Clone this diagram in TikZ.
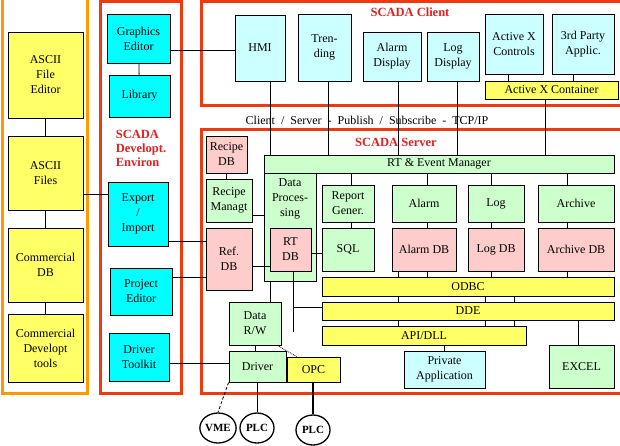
\documentclass[tikz,border=0pt]{standalone}
\usepackage{fontspec}
\setmainfont{Liberation Serif}
\usetikzlibrary{shapes.geometric}
\definecolor{aqua}{HTML}{00FFFF}
\definecolor{paleaqua}{HTML}{CCFFFF}
\definecolor{paleyellow}{HTML}{FFFF66}
\definecolor{palegreen}{HTML}{CCFFCC}
\definecolor{palepink}{HTML}{FFCCCC}
\definecolor{frameorange}{HTML}{FF9900}
\definecolor{framered}{HTML}{EE3A10}
\definecolor{titlered}{HTML}{E02020}
\tikzset{
	box/.style={rectangle, draw=black, line width=0.9pt, inner sep=1pt, align=center, font=\fontsize{12}{15}\selectfont},
	tool box/.style={box, fill=paleyellow},
	dev box/.style={box, fill=aqua},
	client box/.style={box, fill=paleaqua},
	server box/.style={box, fill=palegreen},
	db box/.style={box, fill=palepink},
	bus box/.style={box, fill=paleyellow},
	field/.style={ellipse, draw=black, line width=1.3pt, inner sep=0pt, minimum width=34pt, minimum height=30pt, font=\bfseries\fontsize{11}{12}\selectfont},
	frame/.style={line width=3pt},
	title/.style={text=titlered, font=\bfseries\fontsize{12.5}{14}\selectfont, align=left}
}
\begin{document}
\begin{tikzpicture}[x=1pt, y=-1pt, line width=0.8pt]
	\useasboundingbox (0,0) rectangle (620,445);
	% frames
	\draw[frame, draw=frameorange] (2,-2) rectangle (87,393);
	\draw[frame, draw=framered] (100,1) rectangle (181,393);
	\draw[frame, draw=framered] (201,1) rectangle (622,105);
	\draw[frame, draw=framered] (201,129) rectangle (622,393);

	\node[title](clientTitle) at (410,12){SCADA Client};
	\node[title](serverTitle) at (396,142){SCADA Server};
	\node[title](devTitle) at (141,148){SCADA\\Developt.\\Environ};
	\node[font=\fontsize{12}{14}\selectfont](protocol) at (367,120){Client \ / \ Server \ - \ Publish \ / \ Subscribe \ - \ TCP/IP};

	% commercial tools
	\node[tool box, minimum width=75pt, minimum height=86pt](fileEditor) at (45.5,75){ASCII\\File\\Editor};
	\node[tool box, minimum width=75pt, minimum height=74pt](asciiFiles) at (45.5,173){ASCII\\Files};
	\node[tool box, minimum width=75pt, minimum height=74pt](commDB) at (45.5,265){Commercial\\DB};
	\node[tool box, minimum width=75pt, minimum height=68pt](commTools) at (45.5,348){Commercial\\Developt\\tools};

	% development environment
	\node[dev box, minimum width=63pt, minimum height=49pt](graphEditor) at (138.5,38.5){Graphics\\Editor};
	\node[dev box, minimum width=61pt, minimum height=42pt](library) at (139.5,96){Library};
	\node[dev box, minimum width=60pt, minimum height=64pt](exportImport) at (138,214){Export\\/\\Import};
	\node[dev box, minimum width=62pt, minimum height=47pt](projEditor) at (141,291.5){Project\\Editor};
	\node[dev box, minimum width=60pt, minimum height=48pt](drvToolkit) at (139,357){Driver\\Toolkit};

	% client
	\node[client box, minimum width=50pt, minimum height=66pt](hmi) at (260,48){HMI};
	\node[client box, minimum width=53pt, minimum height=67pt](trending) at (324.5,47.5){Tren-\\ding};
	\node[client box, minimum width=58pt, minimum height=49pt](alarmDisp) at (392,56.5){Alarm\\Display};
	\node[client box, minimum width=52pt, minimum height=49pt](logDisp) at (453,56.5){Log\\Display};
	\node[client box, minimum width=58pt, minimum height=60pt](axControls) at (514,44){Active X\\Controls};
	\node[client box, minimum width=62pt, minimum height=60pt](thirdParty) at (583,44){3rd Party\\Applic.};
	\node[bus box, minimum width=133pt, minimum height=18pt](axContainer) at (551.5,90){Active X Container};

	% server
	\node[db box, minimum width=41pt, minimum height=37pt](recipeDB) at (226.5,154.5){Recipe\\DB};
	\node[server box, minimum width=46pt, minimum height=43pt](recipeMgt) at (229,200.5){Recipe\\Managt};
	\node[server box, minimum width=350pt, minimum height=18pt](rtManager) at (439,164){RT \& Event Manager};
	\node[server box, minimum width=52pt, minimum height=108pt, label={[anchor=north, align=center, font=\fontsize{12}{15}\selectfont, yshift=-2pt]north:Data\\Proces-\\sing}](dataProc) at (290,227){};
	\node[db box, minimum width=41pt, minimum height=43pt](rtDB) at (290.5,249.5){RT\\DB};
	\node[db box, minimum width=46pt, minimum height=62pt](refDB) at (229,259){Ref.\\DB};
	\node[server box, minimum width=52pt, minimum height=37pt](reportGen) at (348,203.5){Report\\Gener.};
	\node[server box, minimum width=64pt, minimum height=37pt](alarm) at (424,203.5){Alarm};
	\node[server box, minimum width=56pt, minimum height=37pt](log) at (496,203.5){Log};
	\node[server box, minimum width=76pt, minimum height=37pt](archive) at (576,203.5){Archive};
	\node[server box, minimum width=52pt, minimum height=43pt](sql) at (348,249.5){SQL};
	\node[db box, minimum width=64pt, minimum height=43pt](alarmDB) at (424,249.5){Alarm DB};
	\node[db box, minimum width=56pt, minimum height=43pt](logDB) at (496,249.5){Log DB};
	\node[db box, minimum width=76pt, minimum height=43pt](archiveDB) at (576,249.5){Archive DB};
	\node[bus box, minimum width=292pt, minimum height=19pt](odbc) at (468,286.5){ODBC};
	\node[bus box, minimum width=292pt, minimum height=18pt](dde) at (468,311){DDE};
	\node[bus box, minimum width=204pt, minimum height=19pt](api) at (424,335.5){API/DLL};
	\node[server box, minimum width=52pt, minimum height=43pt](dataRW) at (255,323.5){Data\\R/W};
	\node[server box, minimum width=57pt, minimum height=31pt](driver) at (257.5,366.5){Driver};
	\node[bus box, minimum width=53pt, minimum height=25pt](opc) at (313.5,369.5){OPC};
	\node[client box, minimum width=81pt, minimum height=37pt](privApp) at (444.5,369.5){Private\\Application};
	\node[server box, minimum width=65pt, minimum height=43pt](excel) at (581.5,366.5){EXCEL};

	% field devices
	\node[field](vme) at (218,428){VME};
	\node[field](plcA) at (257,428){PLC};
	\node[field](plcB) at (313,430){PLC};
	\coordinate (rtEnd) at (293,332);

	% connectors
	\draw (fileEditor) -- (asciiFiles);
	\draw (asciiFiles) -- (commDB);
	\draw (commDB) -- (commTools);
	\draw ([yshift=-21pt]asciiFiles.east) -- ([yshift=-21pt]asciiFiles.east -| exportImport.west);
	\draw (graphEditor) -- (library);
	\draw ([yshift=-12pt]graphEditor.east) -- ([yshift=-12pt]graphEditor.east -| hmi.west);
	\foreach \n/\s in {hmi/10,trending/3.5,alarmDisp/6,logDisp/4,axContainer/-6.5}
		\draw ([xshift=\s pt]\n.south) -- ([xshift=\s pt]\n.south |- rtManager.north);
	\draw ([xshift=-6pt]axControls.south) -- ([xshift=-6pt]axControls.south |- axContainer.north);
	\draw ([xshift=-10pt]thirdParty.south) -- ([xshift=-10pt]thirdParty.south |- axContainer.north);
	\draw (recipeDB) -- (recipeDB |- recipeMgt.north);
	\draw ([yshift=-14.5pt]recipeMgt.east) -- ([yshift=-14.5pt]recipeMgt.east -| dataProc.west);
	\draw ([yshift=-27pt]exportImport.east) -- ([yshift=-27pt]exportImport.east -| refDB.west);
	\draw ([yshift=14.5pt]projEditor.east) -- ([yshift=14.5pt]projEditor.east -| refDB.west);
	\draw ([yshift=-7pt]refDB.east) -- ([yshift=-7pt]refDB.east -| rtDB.west);
	\draw ([yshift=-3.5pt]rtDB.east) -- ([yshift=-3.5pt]rtDB.east -| sql.west);
	\foreach \n/\m/\s in {reportGen/sql/3,alarm/alarmDB/3,log/logDB/-5,archive/archiveDB/-9}{
		\draw ([xshift=\s pt]\n.north) -- ([xshift=\s pt]\n.north |- rtManager.south);
		\draw ([xshift=\s pt]\n.south) -- ([xshift=\s pt]\n.south |- \m.north);
	}
	\foreach \n/\s in {alarmDB/-26,alarmDB/3,logDB/-5,archiveDB/-9}
		\draw ([xshift=\s pt]\n.south) -- ([xshift=\s pt]\n.south |- odbc.north);
	\foreach \s in {-70,17,46}{
		\draw ([xshift=\s pt]odbc.south) -- ([xshift=\s pt]odbc.south |- dde.north);
		\draw ([xshift=\s pt]dde.south) -- ([xshift=\s pt]dde.south |- api.north);
	}
	\draw ([xshift=-3.5pt]excel.north) -- ([xshift=-3.5pt]excel.north |- dde.south);
	\draw (privApp.north) -- (privApp.north |- api.south);
	\draw (rtDB.south -| rtEnd) -- (rtEnd);
	\draw ([yshift=4pt]dde.west) -- ([yshift=4pt]dde.west -| rtEnd);
	\draw ([xshift=-20pt]dataProc.south) -- ([xshift=-20pt]dataProc.south |- dataRW.north);
	\draw (dataRW.south) -- (dataRW.south |- driver.north);
	\draw[densely dotted] ([xshift=-4pt]dataRW.south east) -- ([xshift=10pt]opc.north west);
	\draw ([yshift=-6pt]drvToolkit.east) -- ([yshift=-6pt]drvToolkit.east -| driver.west);
	\draw[densely dashed] (driver.south west) -- (vme.north);
	\draw (driver.south -| plcA) -- (plcA.north);
	\draw[line width=1.6pt] (opc.south -| plcB) -- (plcB.north);
\end{tikzpicture}
\end{document}
